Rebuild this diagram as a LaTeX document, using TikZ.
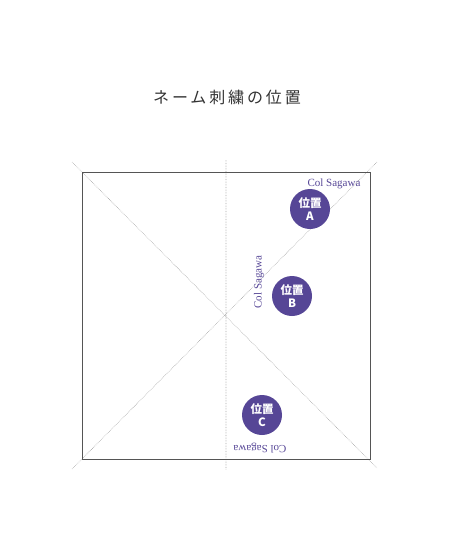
\documentclass[tikz,border=0pt]{standalone}
\usepackage{fontspec}
\setmainfont{Liberation Serif}
\newfontfamily\jpfont{Noto Sans CJK JP}
\newfontfamily\titlefont[LetterSpace=18]{Noto Sans CJK JP}
\definecolor{posviolet}{RGB}{86,70,150}
\definecolor{framegray}{RGB}{85,85,85}
\begin{document}
\begin{tikzpicture}[x=1pt,y=-1pt,
	guide/.style={gray!70,densely dotted,line width=0.6pt},
	posdot/.style={circle,fill=posviolet,minimum size=40pt,inner sep=0pt,text=white,align=center,font=\jpfont\bfseries\fontsize{11.5}{13.5}\selectfont},
	sign/.style={text=posviolet,inner sep=0pt,font=\fontsize{11}{11}\selectfont}]
	\useasboundingbox (0,0) rectangle (460,552);
	\node[text=black!80,font=\titlefont\fontsize{16}{16}\selectfont] (title) at (227,97) {ネーム刺繍の位置};
	% guides
	\coordinate (tl) at (72,162); \coordinate (br) at (377,468);
	\coordinate (bl) at (72,469); \coordinate (tr) at (377,162);
	\coordinate (vt) at (226,160); \coordinate (vb) at (226,470);
	\draw[guide] (tl) -- (br) (bl) -- (tr) (vt) -- (vb);
	\draw[framegray,line width=1pt] (82,172) rectangle (370,459);
	% positions
	\node[posdot] (posA) at (310,209) {位置\\A};
	\node[posdot] (posB) at (292,296) {位置\\B};
	\node[posdot] (posC) at (262,415) {位置\\C};
	\node[sign] (signA) at (334,184) {Col Sagawa};
	\node[sign,rotate=90] (signB) at (259,282) {Col Sagawa};
	\node[sign,rotate=180] (signC) at (260,448) {Col Sagawa};
\end{tikzpicture}
\end{document}
